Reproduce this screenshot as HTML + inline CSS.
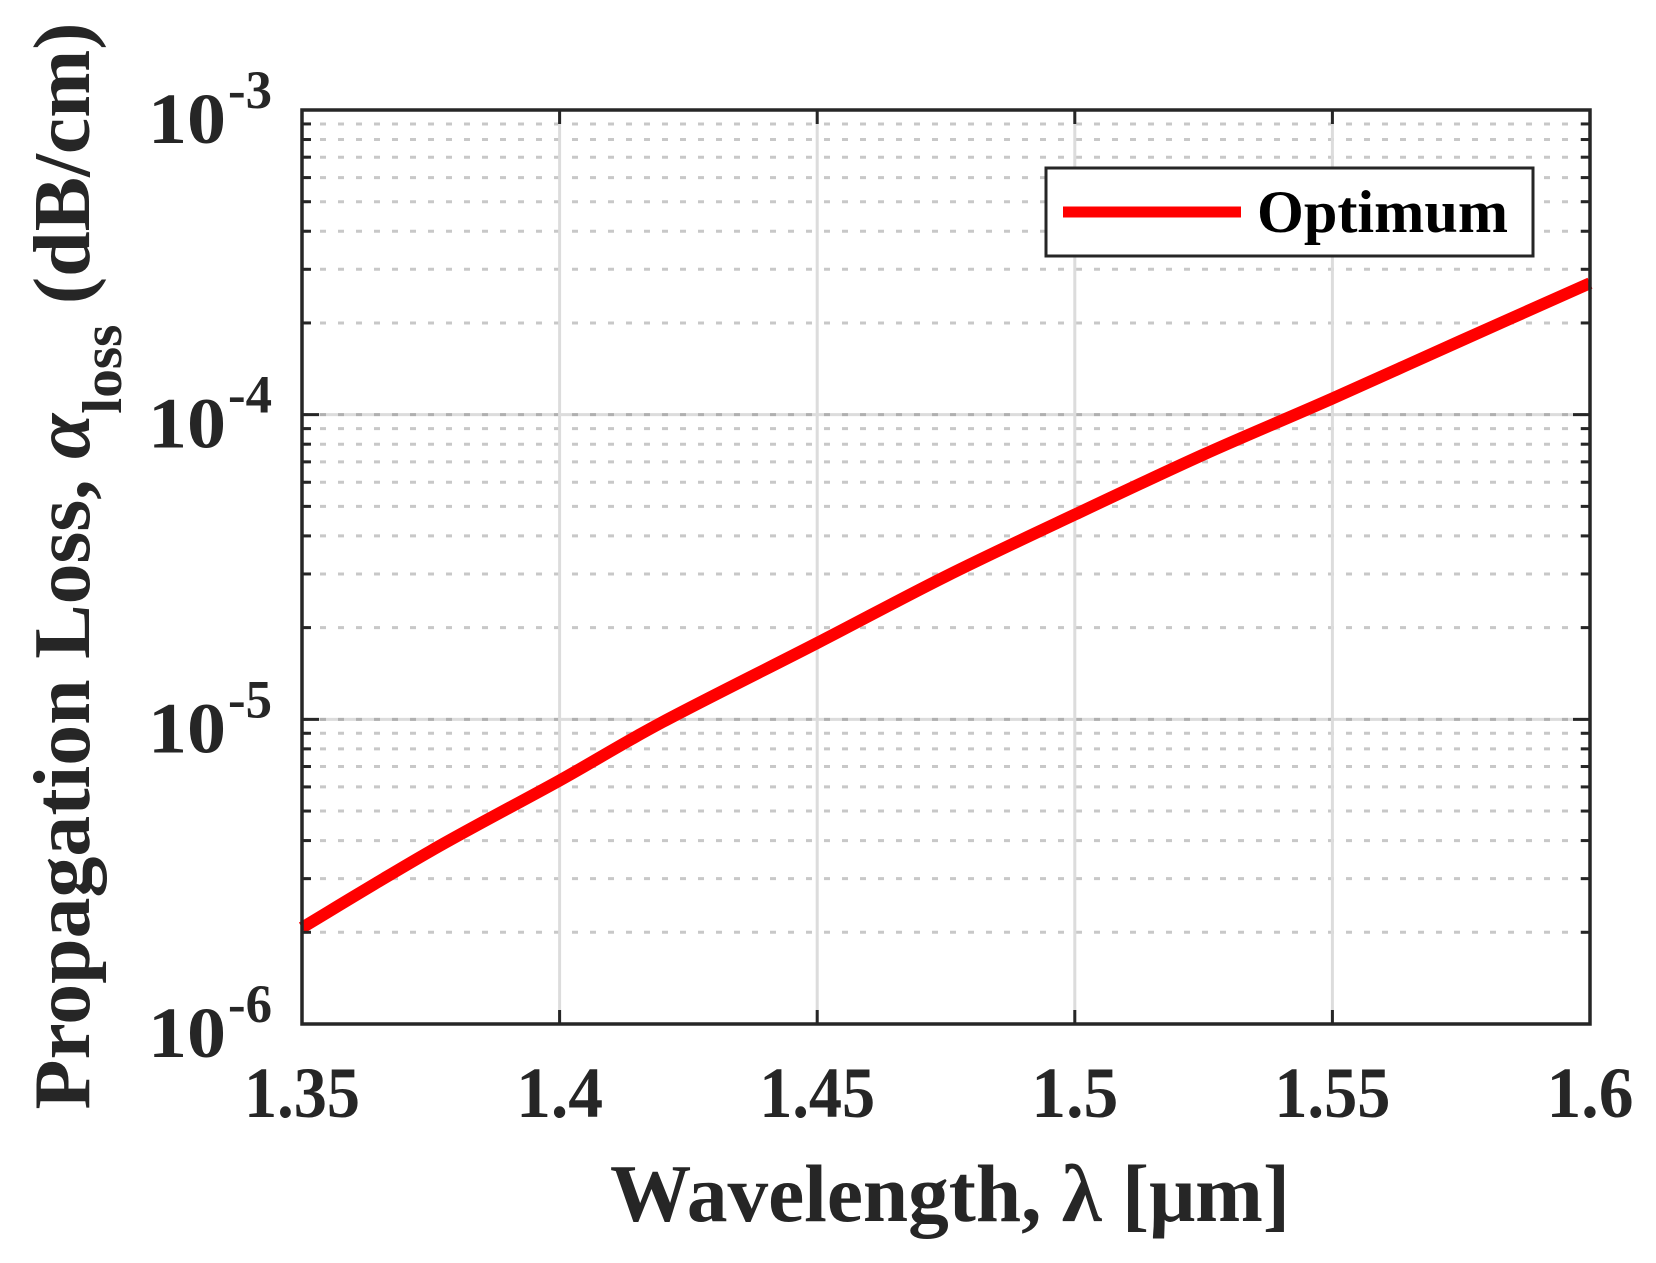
<!DOCTYPE html>
<html><head><meta charset="utf-8"><style>
html,body{margin:0;padding:0;background:#fff;}
svg{display:block;font-family:"Liberation Serif",serif;font-weight:bold;}
</style></head><body>
<svg id="chart" width="1656" height="1263" viewBox="0 0 1656 1263" xmlns="http://www.w3.org/2000/svg">
<rect x="0" y="0" width="1656" height="1263" fill="#fff"/>
<g id="grid"></g>
<g id="series"></g>
<g id="axes"></g>
<g id="legend">
  <rect x="1046" y="168" width="487" height="88" fill="#fff" stroke="#262626" stroke-width="3"/>
  <line x1="1063" y1="212" x2="1241" y2="212" stroke="#ff0000" stroke-width="11"/>
  <text x="1257" y="232" font-size="60" fill="#000" textLength="251" lengthAdjust="spacingAndGlyphs">Optimum</text>
</g>
<text x="950" y="1221" font-size="82" fill="#262626" text-anchor="middle" textLength="680" lengthAdjust="spacingAndGlyphs">Wavelength, λ [μm]</text>
<text transform="translate(89,566) rotate(-90)" x="0" y="0" font-size="80" fill="#262626" text-anchor="middle" textLength="1087" lengthAdjust="spacingAndGlyphs">Propagation Loss, <tspan font-style="italic">α</tspan><tspan font-size="56" dy="32">loss</tspan><tspan dy="-32">  (dB/cm)</tspan></text>
</svg>
<script>
const categories = [1.35, 1.375, 1.40, 1.42, 1.45, 1.475, 1.50, 1.525, 1.55, 1.575, 1.60];
const seriesOptimum = [2.07e-6, 3.7e-6, 6.3e-6, 9.8e-6, 1.78e-5, 2.95e-5, 4.7e-5, 7.4e-5, 1.13e-4, 1.75e-4, 2.7e-4];
const xTicks = [1.35, 1.40, 1.45, 1.50, 1.55, 1.60];
const xTickLabels = ["1.35", "1.4", "1.45", "1.5", "1.55", "1.6"];
const yDecades = [-6, -5, -4, -3];
const yTickLabels = ["-6", "-5", "-4", "-3"];

const L = 302, R = 1590, T = 110, B = 1024;
const NS = "http://www.w3.org/2000/svg";
function xs(v){ return L + (v - 1.35) / (1.60 - 1.35) * (R - L); }
function ys(v){ return B - (Math.log10(v) + 6) / 3 * (B - T); }
function mk(tag, attrs, parent){
  const e = document.createElementNS(NS, tag);
  for (const k in attrs) e.setAttribute(k, attrs[k]);
  parent.appendChild(e); return e;
}
const grid = document.getElementById('grid');
const axes = document.getElementById('axes');
const series = document.getElementById('series');

yDecades.slice(0, 3).forEach(d => {
  for (let m = 2; m <= 9; m++) {
    const y = ys(m * Math.pow(10, d));
    const g = mk('line', {x1: L, x2: R, y1: y, y2: y, stroke: '#c8c8c8', 'stroke-width': 3, 'stroke-dasharray': '6 12'}, grid);
    
    
    const t1 = mk('line', {x1: L, x2: L + 9, y1: y, y2: y, stroke: '#262626', 'stroke-width': 3}, axes);
    
    
    const t2 = mk('line', {x1: R, x2: R - 9, y1: y, y2: y, stroke: '#262626', 'stroke-width': 3}, axes);
    
    
  }
});
yDecades.forEach((d, i) => {
  const y = ys(Math.pow(10, d));
  if (d > -6 && d < -3) {
    const g = mk('line', {x1: L, x2: R, y1: y, y2: y, stroke: '#dcdcdc', 'stroke-width': 3}, grid);
    
    
    const g2 = mk('line', {x1: L, x2: R, y1: y, y2: y, stroke: '#b0b0b0', 'stroke-width': 3, 'stroke-dasharray': '6 12'}, grid);
    
    
  }
  const t1 = mk('line', {x1: L, x2: L + 17, y1: y, y2: y, stroke: '#262626', 'stroke-width': 3}, axes);
  
  
  const t2 = mk('line', {x1: R, x2: R - 17, y1: y, y2: y, stroke: '#262626', 'stroke-width': 3}, axes);
  
  
  const lab = mk('text', {x: 226, y: y + 33, 'font-size': 72, fill: '#262626', 'text-anchor': 'end', textLength: 78, lengthAdjust: 'spacingAndGlyphs'}, axes);
  lab.textContent = '10';
  
  
  const sup = mk('text', {x: 228, y: y - 2, 'font-size': 54, fill: '#262626', textLength: 44, lengthAdjust: 'spacingAndGlyphs'}, axes);
  sup.textContent = yTickLabels[i];
  
  
});
xTicks.forEach((v, i) => {
  const x = xs(v);
  if (i > 0 && i < xTicks.length - 1) {
    const g = mk('line', {x1: x, x2: x, y1: T, y2: B, stroke: '#dcdcdc', 'stroke-width': 3}, grid);
    
    
  }
  const t1 = mk('line', {x1: x, x2: x, y1: B, y2: B - 14, stroke: '#262626', 'stroke-width': 3}, axes);
  
  
  const t2 = mk('line', {x1: x, x2: x, y1: T, y2: T + 14, stroke: '#262626', 'stroke-width': 3}, axes);
  
  
  const lab = mk('text', {x: x, y: 1117, 'font-size': 72, fill: '#262626', 'text-anchor': 'middle', textLength: xTickLabels[i].length * 29, lengthAdjust: 'spacingAndGlyphs'}, axes);
  lab.textContent = xTickLabels[i];
  
  
});
const fr = mk('rect', {x: L, y: T, width: R - L, height: B - T, fill: 'none', stroke: '#262626', 'stroke-width': 3.5}, axes);


// smooth Catmull-Rom path through data points
const pts = categories.map((c, i) => [xs(c), ys(seriesOptimum[i])]);
let d = 'M' + pts[0][0].toFixed(1) + ',' + pts[0][1].toFixed(1);
for (let i = 0; i < pts.length - 1; i++) {
  const p0 = pts[Math.max(0, i - 1)], p1 = pts[i], p2 = pts[i + 1], p3 = pts[Math.min(pts.length - 1, i + 2)];
  const c1x = p1[0] + (p2[0] - p0[0]) / 6, c1y = p1[1] + (p2[1] - p0[1]) / 6;
  const c2x = p2[0] - (p3[0] - p1[0]) / 6, c2y = p2[1] - (p3[1] - p1[1]) / 6;
  d += 'C' + c1x.toFixed(1) + ',' + c1y.toFixed(1) + ' ' + c2x.toFixed(1) + ',' + c2y.toFixed(1) + ' ' + p2[0].toFixed(1) + ',' + p2[1].toFixed(1);
}
const p = mk('path', {d: d, fill: 'none', stroke: '#ff0000', 'stroke-width': 12}, series);


</script>
</body></html>
